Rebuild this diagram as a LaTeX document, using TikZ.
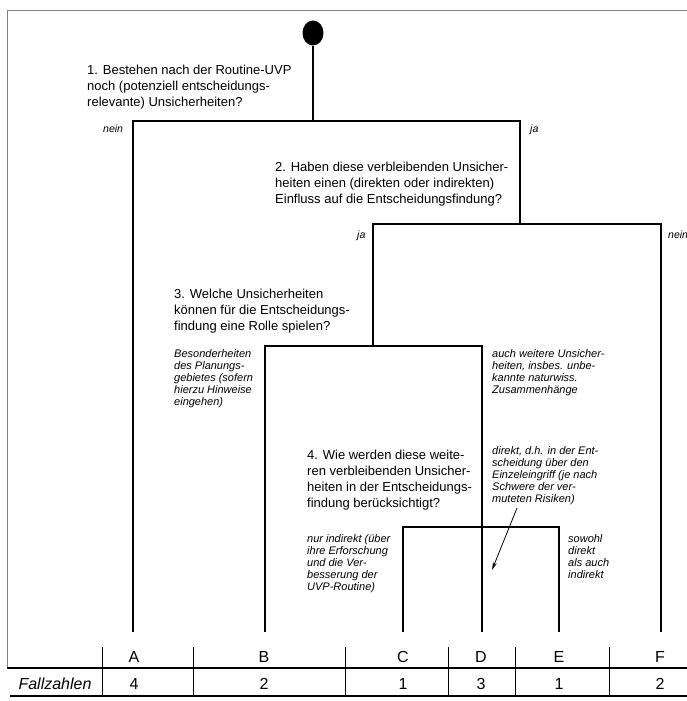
\documentclass[tikz,border=0pt]{standalone}
\usepackage{fontspec}
\setmainfont{Liberation Sans}
\usetikzlibrary{arrows.meta, shapes.geometric}

\begin{document}
\begin{tikzpicture}[x=1pt, y=-1pt,
        branch/.style={line width=2.4pt},
        rule/.style={line width=1.2pt},
        question/.style={anchor=north west, align=left, inner sep=0pt, font=\fontsize{13}{16}\selectfont},
        note/.style={anchor=north west, align=left, inner sep=0pt, font=\fontsize{11}{12}\selectfont\itshape},
        answer/.style={anchor=base west, inner sep=0pt, font=\fontsize{10.5}{12}\selectfont\itshape},
        cell/.style={inner sep=0pt, font=\fontsize{16}{18}\selectfont}]
        \useasboundingbox (0,0) rectangle (687,701);

        % Page frame
        \draw[gray, line width=0.8pt] (687,10) -- (7,10) -- (7,668);

        % Root of the tree
        \node[ellipse, fill=black, inner sep=0pt, minimum width=21pt, minimum height=25pt] (root) at (313,33) {};

        % Ends of the branches
        \coordinate (A) at (133,632);
        \coordinate (B) at (265,632);
        \coordinate (C) at (403,632);
        \coordinate (D) at (482,632);
        \coordinate (E) at (559,632);
        \coordinate (F) at (661,632);

        % Branches
        \draw[branch] (root.south) -- (313,121);
        \draw[branch] (A) |- (520,121) -- (520,224);
        \draw[branch] (373,346) |- (661,224) -- (F);
        \draw[branch] (B) |- (482,346) -- (D);
        \draw[branch] (C) |- (559,527) -- (E);

        % Questions
        \node[question] (q1) at (87,65) {1. Bestehen nach der Routine-UVP\\noch (potenziell entscheidungs-\\relevante) Unsicherheiten?};
        \node[question] (q2) at (275,162) {2. Haben diese verbleibenden Unsicher-\\heiten einen (direkten oder indirekten)\\Einfluss auf die Entscheidungsfindung?};
        \node[question] (q3) at (174,289) {3. Welche Unsicherheiten\\können für die Entscheidungs-\\findung eine Rolle spielen?};
        \node[question] (q4) at (307,450) {4. Wie werden diese weite-\\ren verbleibenden Unsicher-\\heiten in der Entscheidungs-\\findung berücksichtigt?};

        % Answers
        \node[answer] (nein1) at (103,132) {nein};
        \node[answer] (ja1) at (530,132) {ja};
        \node[answer] (ja2) at (357,238) {ja};
        \node[answer] (nein2) at (668,238) {nein};

        \node[note] (planung) at (174,349) {Besonderheiten\\des Planungs-\\gebietes (sofern\\hierzu Hinweise\\eingehen)};
        \node[note] (weitere) at (492,349) {auch weitere Unsicher-\\heiten, insbes. unbe-\\kannte naturwiss.\\Zusammenhänge};
        \node[note] (direkt) at (492,446) {direkt, d.h. in der Ent-\\scheidung über den\\Einzeleingriff (je nach\\Schwere der ver-\\muteten Risiken)};
        \node[note] (indirekt) at (307,534) {nur indirekt (über\\ihre Erforschung\\und die Ver-\\besserung der\\UVP-Routine)};
        \node[note] (beides) at (568,534) {sowohl\\direkt\\als auch\\indirekt};

        \coordinate (Dtail) at (517,508);
        \coordinate (Dtip) at (492,570);
        \draw[-{Stealth[length=8pt, width=4pt]}, line width=0.8pt] (Dtail) -- (Dtip);

        % Table of case numbers
        \draw[rule] (7,668) -- (687,668);
        \draw[rule] (10,696) -- (687,696);
        \foreach \x in {102,193,345,448,515,609}
            \draw[line width=0.8pt] (\x,647) -- (\x,696);
        \node[cell, font=\fontsize{16}{18}\selectfont\itshape] (fall) at (55,684) {Fallzahlen};
        \foreach \x/\l/\n in {134/A/4, 264/B/2, 403/C/1, 481/D/3, 559/E/1, 660/F/2} {
            \node[cell] (lab\l) at (\x,657) {\l};
            \node[cell] (num\l) at (\x,684) {\n};
        }
    \end{tikzpicture}
\end{document}
